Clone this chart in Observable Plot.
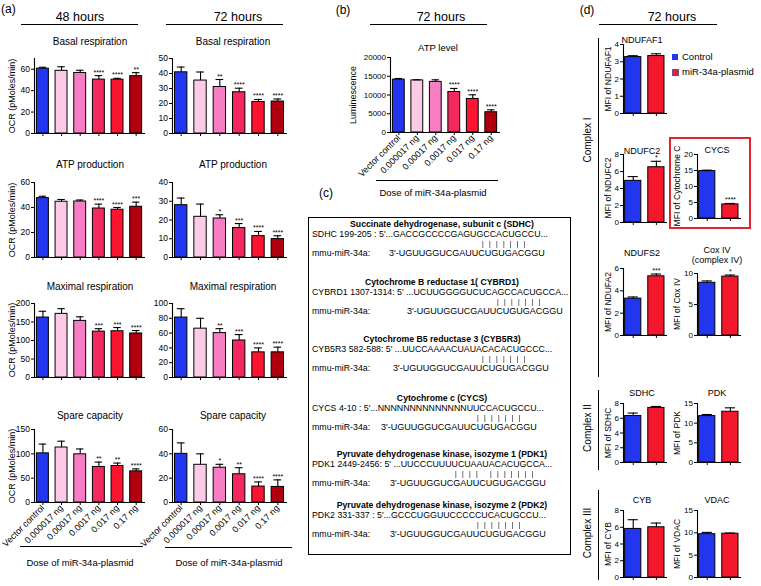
<!DOCTYPE html>
<html><head><meta charset="utf-8">
<script src="https://cdn.jsdelivr.net/npm/d3@7"></script>
<script src="https://cdn.jsdelivr.net/npm/@observablehq/plot@0.6"></script>
<style>
body{margin:0;background:#fff;}
#root{position:relative;width:761px;height:586px;overflow:hidden;font-family:"Liberation Sans",Arial,Helvetica,sans-serif;color:#000;background:#fff;}
.t{position:absolute;white-space:pre;line-height:1;}
.ln{position:absolute;background:#000;}
svg{position:absolute;overflow:visible;}
</style></head><body><div id="root"></div>
<script>
// ---------------- DATA ----------------
const doses = ["Vector control","0.000017 ng","0.00017 ng","0.0017 ng","0.017 ng","0.17 ng"];
const doseColors = ["#2236f0","#fdcbe8","#f77ec4","#f2285f","#fb1530","#b00010"];

const basal48 = [60.5, 58.5, 56.5, 50.3, 50.2, 53.5];
const basal48Err = [61.8, 62.3, 59.0, 54.0, 51.5, 56.8];
const basal48Sig = ["","","","****","****","**"];
const basal72 = [40.8, 35.3, 31.0, 27.5, 21.0, 21.3];
const basal72Err = [44.3, 41.0, 36.0, 30.2, 22.7, 23.0];
const basal72Sig = ["","","**","****","****","****"];
const atp48 = [47.5, 44.6, 44.8, 39.2, 38.2, 40.6];
const atp48Err = [49.0, 46.4, 46.0, 42.7, 40.0, 44.3];
const atp48Sig = ["","","","****","****","***"];
const atp72 = [27.9, 21.7, 20.8, 15.7, 11.4, 9.8];
const atp72Err = [31.7, 28.5, 22.8, 18.1, 13.9, 11.6];
const atp72Sig = ["","","*","***","****","****"];
const max48 = [162, 172, 153, 124, 125, 119];
const max48Err = [179, 186, 164, 132, 135, 127];
const max48Sig = ["","","","***","***","****"];
const max72 = [81, 66, 60, 50, 34, 34];
const max72Err = [93, 80, 66, 58, 40, 41];
const max72Sig = ["","","**","***","****","****"];
const spare48 = [101, 113, 99, 73, 75, 64];
const spare48Err = [120, 126, 110, 83, 81, 69];
const spare48Sig = ["","","","**","**","****"];
const spare72 = [40, 31, 28.6, 23.2, 13.1, 12.8];
const spare72Err = [49, 40, 31.4, 28.6, 16.9, 18.6];
const spare72Sig = ["","","*","**","****","****"];
const atpLevel = [14100, 13900, 13500, 10800, 8950, 5400];
const atpLevelErr = [14400, 14050, 14050, 11750, 10050, 6050];
const atpLevelSig = ["","","","****","****","****"];

const groups = ["Control","miR-34a-plasmid"];
const groupColors = ["#2236f0","#f5182c"];
const ndufaf1 = [3.27, 3.33], ndufaf1Err = [3.35, 3.46], ndufaf1Sig = ["",""];
const ndufc2 = [4.9, 6.5], ndufc2Err = [5.4, 7.2], ndufc2Sig = ["","*"];
const cycs = [14.8, 4.4], cycsErr = [15.1, 4.7], cycsSig = ["","****"];
const ndufs2 = [3.3, 5.3], ndufs2Err = [3.45, 5.5], ndufs2Sig = ["","***"];
const coxIV = [8.5, 9.5], coxIVErr = [8.8, 9.75], coxIVSig = ["","*"];
const sdhc = [6.3, 7.4], sdhcErr = [6.7, 7.6], sdhcSig = ["",""];
const pdk = [11.8, 12.9], pdkErr = [12.2, 13.9], pdkSig = ["",""];
const cyb = [5.8, 6.0], cybErr = [6.9, 6.5], cybSig = ["",""];
const vdac = [9.7, 9.8], vdacErr = [10.1, 9.95], vdacSig = ["",""];

const targetNames = ["Succinate dehydrogenase, subunit c (SDHC)","Cytochrome B reductase 1( CYBRD1)","Cytochrome B5 reductase 3 (CYB5R3)","Cytochrome c (CYCS)","Pyruvate dehydrogenase kinase, isozyme 1 (PDK1)","Pyruvate dehydrogenase kinase, isozyme 2 (PDK2)"];
const targetSites = ["SDHC 199-205 : 5'...GACCGCCCCGAGUGCCACUGCCU...","CYBRD1 1307-1314: 5' ...UCUUGGGGUCUCAGCCACUGCCA...","CYB5R3 582-588: 5' ...UUCCAAAACUAUACACACUGCCC...","CYCS 4-10 : 5'...NNNNNNNNNNNNNNUUCCACUGCCU...","PDK1 2449-2456: 5' ...UUCCCUUUUCUAAUACACUGCCA...","PDK2 331-337 : 5'...GCCCUGGUUCCCCCUCACUGCCU..."];
const pairings = ["|||||||","|||||||","|||||||","|||||||","|||| |||||||","|||||||"];
const mirnaLabel = "mmu-miR-34a:";
const mirnaSeq = "3'-UGUUGGUCGAUUCUGUGACGGU";

// ---------------- HELPERS ----------------
const root = document.getElementById("root");
const FONT = '"Liberation Sans", Arial, Helvetica, sans-serif';
function addText(s, x, y, o = {}) {
  const d = document.createElement("div");
  d.className = "t";
  d.textContent = s;
  d.style.left = x + "px"; d.style.top = y + "px";
  d.style.fontSize = (o.size || 9) + "px";
  if (o.weight) d.style.fontWeight = o.weight;
  if (o.ls) d.style.letterSpacing = o.ls + "px";
  if (o.gray) d.style.filter = "grayscale(1)";
  const a = o.anchor || "middle";
  const tx = a === "start" ? "0" : a === "end" ? "-100%" : "-50%";
  d.style.transform = `translate(${tx},-50%)` + (o.rotate ? ` rotate(${o.rotate}deg)` : "");
  root.appendChild(d);
  return d;
}
function hline(x1, x2, y, w = 1, c = "#000") {
  const d = document.createElement("div"); d.className = "ln";
  Object.assign(d.style, {left: x1 + "px", top: (y - w / 2) + "px", width: (x2 - x1) + "px", height: w + "px", background: c});
  root.appendChild(d);
}
function vline(x, y1, y2, w = 1, c = "#000") {
  const d = document.createElement("div"); d.className = "ln";
  Object.assign(d.style, {left: (x - w / 2) + "px", top: y1 + "px", width: w + "px", height: (y2 - y1) + "px", background: c});
  root.appendChild(d);
}
function box(x1, y1, x2, y2, w, c) {
  const d = document.createElement("div");
  Object.assign(d.style, {position: "absolute", left: x1 + "px", top: y1 + "px", width: (x2 - x1 - 2 * w) + "px", height: (y2 - y1 - 2 * w) + "px", border: `${w}px solid ${c}`});
  root.appendChild(d);
}

function bars(o) {
  const n = o.cats.length;
  const data = o.cats.map((c, i) => ({i, c, v: o.values[i], e: o.errs[i], s: o.sig[i], color: o.colors[i]}));
  const ML = 34, MR = 6, MT = 14, MB = o.xLabels ? 70 : 8;
  const W = o.x1 - o.x0 + ML + MR, H = o.bottom - o.top + MT + MB;
  const xd = o.xDomain, yTop = o.yDomain[1];
  const chart = Plot.plot({
    width: W, height: H, marginLeft: ML, marginRight: MR, marginTop: MT, marginBottom: MB,
    x: {domain: xd, label: null},
    y: {domain: o.yDomain, label: null},
    color: {type: "identity"},
    style: {fontFamily: FONT, fontSize: (o.tickFont || 8.5) + "px", background: "transparent", overflow: "visible", color: "#000"},
    marks: [
      Plot.rectY(data, {x1: d => d.i - o.bh, x2: d => d.i + o.bh, y1: 0, y2: "v", fill: "color", stroke: "#000", strokeWidth: 1}),
      Plot.ruleX(data, {x: "i", y1: "v", y2: "e", stroke: "#000", strokeWidth: 1.1}),
      Plot.ruleY(data, {y: "e", x1: d => d.i - o.cap, x2: d => d.i + o.cap, stroke: "#000", strokeWidth: 1.1}),
      Plot.text(data, {x: "i", y: "e", text: "s", dy: -1, lineAnchor: "bottom", fontSize: 7}),
      Plot.ruleY([0], {stroke: "#000", strokeWidth: 1.1}),
      Plot.ruleX([xd[0]], {y1: 0, y2: yTop, stroke: "#000", strokeWidth: 1.1}),
      Plot.axisY({ticks: o.yTicks, tickSize: 3, tickPadding: 1.5, tickFormat: d => String(d), label: null}),
      Plot.axisX({ticks: d3.range(n), tickSize: 3, tickPadding: 1, label: null,
        tickFormat: o.xLabels ? (i => o.cats[i]) : (() => ""),
        tickRotate: o.xLabels ? -45 : 0, fontSize: o.xFont || 9})
    ]
  });
  chart.style.left = (o.x0 - ML) + "px";
  chart.style.top = (o.top - MT) + "px";
  root.appendChild(chart);
}

// ---------------- PANEL (a) ----------------
addText("(a)", 1, 9, {size: 12, anchor: "start"});
addText("48 hours", 80, 17, {size: 12.5});
hline(21, 138, 24);
addText("72 hours", 238, 17, {size: 12.5});
hline(166, 283, 24);

const aX = [{x0: 34, x1: 145}, {x0: 172, x1: 287}];
const aRows = [
  {title: "Basal respiration", ty: 42, top: 58, bottom: 133,
   sets: [[basal48, basal48Err, basal48Sig, [0, 70], [0, 20, 40, 60]], [basal72, basal72Err, basal72Sig, [0, 50], [0, 10, 20, 30, 40, 50]]]},
  {title: "ATP production", ty: 165, top: 182, bottom: 257,
   sets: [[atp48, atp48Err, atp48Sig, [0, 60], [0, 20, 40, 60]], [atp72, atp72Err, atp72Sig, [0, 40], [0, 10, 20, 30, 40]]]},
  {title: "Maximal respiration", ty: 287, top: 303, bottom: 377,
   sets: [[max48, max48Err, max48Sig, [0, 200], [0, 50, 100, 150, 200]], [max72, max72Err, max72Sig, [0, 100], [0, 20, 40, 60, 80, 100]]]},
  {title: "Spare capacity", ty: 416, top: 429, bottom: 502,
   sets: [[spare48, spare48Err, spare48Sig, [0, 150], [0, 50, 100, 150]], [spare72, spare72Err, spare72Sig, [0, 60], [0, 20, 40, 60]]]}
];
const titleX = [90, 233];
aRows.forEach((r, ri) => {
  r.sets.forEach((s, ci) => {
    addText(r.title, titleX[ci], r.ty, {size: 10});
    bars({x0: aX[ci].x0, x1: aX[ci].x1, top: r.top, bottom: r.bottom, cats: doses, colors: doseColors,
      values: s[0], errs: s[1], sig: s[2], yDomain: s[3], yTicks: s[4], xDomain: [-0.45, 5.5], bh: 0.32, cap: 0.2,
      xLabels: ri === 3});
  });
  addText("OCR (pMoles/min)", 12, (r.top + r.bottom) / 2, {size: 9, rotate: -90});
});
hline(20, 143, 546); addText("Dose of miR-34a-plasmid", 80, 563, {size: 9.5});
hline(165, 292, 547); addText("Dose of miR-34a-plasmid", 229, 563, {size: 9.5});

// ---------------- PANEL (b) ----------------
addText("(b)", 343, 10, {size: 12});
addText("72 hours", 441, 17, {size: 12.5});
hline(370, 487, 24);
addText("ATP level", 438, 48, {size: 9.5});
bars({x0: 390, x1: 500, top: 57, bottom: 132, cats: doses, colors: doseColors, values: atpLevel, errs: atpLevelErr, sig: atpLevelSig,
  yDomain: [0, 20000], yTicks: [0, 5000, 10000, 15000, 20000], xDomain: [-0.45, 5.5], bh: 0.32, cap: 0.2, xLabels: true, tickFont: 8});
addText("Luminescence", 353, 95, {size: 9, rotate: -90});
hline(376, 498, 180); addText("Dose of miR-34a-plasmid", 433, 193, {size: 9.5});

// ---------------- PANEL (c) ----------------
addText("(c)", 326, 193, {size: 12});
box(308, 217, 571, 555, 1, "#000");
const cTitleY = [224, 282, 339, 398, 454, 505];
const cMirX = [389, 407, 393, 381, 390, 390];
const cPipeX = [482, 497, 482, 477, 455, 477];
targetNames.forEach((nm, k) => {
  const y = cTitleY[k];
  addText(nm, 442, y, {size: 8.7, weight: "bold"});
  addText(targetSites[k], 312, y + 10, {size: 8.8, anchor: "start"});
  addText(pairings[k], cPipeX[k], y + 19.6, {size: 6.8, anchor: "start", ls: 5.2, gray: true});
  addText(mirnaLabel, 312, y + 29.3, {size: 8.8, anchor: "start"});
  addText(mirnaSeq, cMirX[k], y + 29.3, {size: 9, anchor: "start"});
});

// ---------------- PANEL (d) ----------------
addText("(d)", 587, 10, {size: 12});
addText("72 hours", 672, 17, {size: 12.5});
hline(599, 717, 24);
const dCols = [{x0: 623, x1: 667, lx: 608, tx: 642}, {x0: 697, x1: 741, lx: 677, tx: 717}];
const dCharts = [
  {col: 0, top: 44, bottom: 113, ty: 40, title: "NDUFAF1", ylabel: "MFI of NDUFAF1", v: ndufaf1, e: ndufaf1Err, s: ndufaf1Sig, dom: [0, 4], ticks: [0, 1, 2, 3, 4]},
  {col: 0, top: 154, bottom: 222, ty: 151, title: "NDUFC2", ylabel: "MFI of NDUFC2", v: ndufc2, e: ndufc2Err, s: ndufc2Sig, dom: [0, 8], ticks: [0, 2, 4, 6, 8]},
  {col: 1, top: 154, bottom: 218, ty: 150, title: "CYCS", ylabel: "MFI of Cytochrome C", v: cycs, e: cycsErr, s: cycsSig, dom: [0, 20], ticks: [0, 5, 10, 15, 20]},
  {col: 0, top: 268, bottom: 335, ty: 253, title: "NDUFS2", ylabel: "MFI of NDUFA2", v: ndufs2, e: ndufs2Err, s: ndufs2Sig, dom: [0, 6], ticks: [0, 2, 4, 6]},
  {col: 1, top: 273, bottom: 335, ty: 250, title: "Cox IV", title2: "(complex IV)", ylabel: "MFI of Cox IV", v: coxIV, e: coxIVErr, s: coxIVSig, dom: [0, 10], ticks: [0, 5, 10]},
  {col: 0, top: 403, bottom: 462, ty: 393, title: "SDHC", ylabel: "MFI of SDHC", v: sdhc, e: sdhcErr, s: sdhcSig, dom: [0, 8], ticks: [0, 2, 4, 6, 8]},
  {col: 1, top: 403, bottom: 462, ty: 393, title: "PDK", ylabel: "MFI of PDK", v: pdk, e: pdkErr, s: pdkSig, dom: [0, 15], ticks: [0, 5, 10, 15]},
  {col: 0, top: 510, bottom: 577, ty: 500, title: "CYB", ylabel: "MFI of CYB", v: cyb, e: cybErr, s: cybSig, dom: [0, 8], ticks: [0, 2, 4, 6, 8]},
  {col: 1, top: 510, bottom: 577, ty: 500, title: "VDAC", ylabel: "MFI of VDAC", v: vdac, e: vdacErr, s: vdacSig, dom: [0, 15], ticks: [0, 5, 10, 15]}
];
dCharts.forEach(c => {
  const col = dCols[c.col];
  addText(c.title, col.tx, c.ty, {size: 9});
  if (c.title2) addText(c.title2, col.tx, c.ty + 10, {size: 9});
  bars({x0: col.x0, x1: col.x1, top: c.top, bottom: c.bottom, cats: groups, colors: groupColors, values: c.v, errs: c.e, sig: c.s,
    yDomain: c.dom, yTicks: c.ticks, xDomain: [-0.42, 1.48], bh: 0.35, cap: 0.22, xLabels: false, tickFont: 8});
  addText(c.ylabel, col.lx, (c.top + c.bottom) / 2, {size: 8.5, rotate: -90});
});
box(669, 137, 751, 229, 2, "#e3232f");
// legend
const lg1 = document.createElement("div");
Object.assign(lg1.style, {position: "absolute", left: "672px", top: "54px", width: "6px", height: "6px", background: groupColors[0]});
root.appendChild(lg1);
const lg2 = document.createElement("div");
Object.assign(lg2.style, {position: "absolute", left: "672px", top: "69px", width: "5px", height: "5px", background: groupColors[1], border: "1px solid #5a5a9a"});
root.appendChild(lg2);
addText(groups[0], 682, 57, {size: 9.5, anchor: "start"});
addText(groups[1], 682, 72, {size: 9.5, anchor: "start"});
// complex brackets
vline(598, 38, 377); addText("Complex I", 588, 140, {size: 10, rotate: -90});
vline(598, 390, 470); addText("Complex II", 588, 428, {size: 10, rotate: -90});
vline(598, 490, 580); addText("Complex III", 588, 533, {size: 10, rotate: -90});
</script></body></html>
